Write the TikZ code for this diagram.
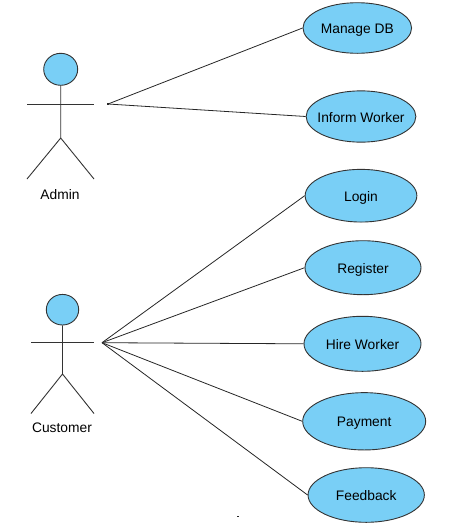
\documentclass[tikz,border=0pt]{standalone}
\usepackage{fontspec}
\setmainfont{Liberation Sans}
\usetikzlibrary{shapes.geometric}
\definecolor{usecaseblue}{HTML}{79CFF6}
\tikzset{
  actorhead/.style={ellipse, draw=black!80, fill=usecaseblue, line width=0.9pt, inner sep=0pt},
  usecase/.style={actorhead, text height=11pt, text depth=0pt},
  actorlabel/.style={inner sep=0pt, anchor=base},
  actorline/.style={draw=black!80, line width=0.9pt},
  link/.style={draw=black!85, line width=0.8pt}
}
\begin{document}
\begin{tikzpicture}[x=1pt,y=-1pt,font=\fontsize{13.8}{16}\selectfont]
\useasboundingbox (0,0) rectangle (448,528);

\node[actorhead, minimum width=34pt, minimum height=32pt] (adminhead) at (60.7,69.3) {};
\draw[actorline] (adminhead.south) -- (60.7,138) -- (27,179) (60.7,138) -- (94,179);
\draw[actorline] (27,104) -- (94,104);
\node[actorlabel] (adminlabel) at (60,199) {Admin};
\coordinate (adminhub) at (108,104);

\node[actorhead, minimum width=32.4pt, minimum height=30.6pt] (customerhead) at (62.5,309.7) {};
\draw[actorline] (customerhead.south) -- (62.5,374) -- (31,413.5) (62.5,374) -- (94,413.5);
\draw[actorline] (31,342.3) -- (94,342.3);
\node[actorlabel] (customerlabel) at (62,432.3) {Customer};
\coordinate (customerhub) at (102,342.7);

\node[usecase, minimum width=108.6pt, minimum height=50.6pt] (managedb) at (357.3,28) {Manage DB};
\node[usecase, minimum width=109.7pt, minimum height=51.3pt] (informworker) at (361,116.5) {\makebox[0pt]{Inform Worker}};
\node[usecase, minimum width=111.7pt, minimum height=52.7pt] (login) at (361,195.7) {Login};
\node[usecase, minimum width=116pt, minimum height=54pt] (register) at (363,267.7) {Register};
\node[usecase, minimum width=117pt, minimum height=55pt] (hireworker) at (362.5,343.8) {Hire Worker};
\node[usecase, minimum width=123pt, minimum height=57.3pt] (payment) at (364.2,421.3) {Payment};
\node[usecase, minimum width=116.3pt, minimum height=54.6pt] (feedback) at (366.2,495) {Feedback};

\draw[link] (adminhub) -- (managedb.west);
\draw[link] (adminhub) -- (informworker.west);
\draw[link] (customerhub) -- (login.west);
\draw[link] (customerhub) -- (register.west);
\draw[link] (customerhub) -- (hireworker.west);
\draw[link] (customerhub) -- (payment.west);
\draw[link] (customerhub) -- (feedback.west);

\fill[black!85] (107.2,103.2) rectangle (109,104.8);
\fill[black!85] (237.3,515.5) rectangle (238.8,516.8);
\end{tikzpicture}
\end{document}
